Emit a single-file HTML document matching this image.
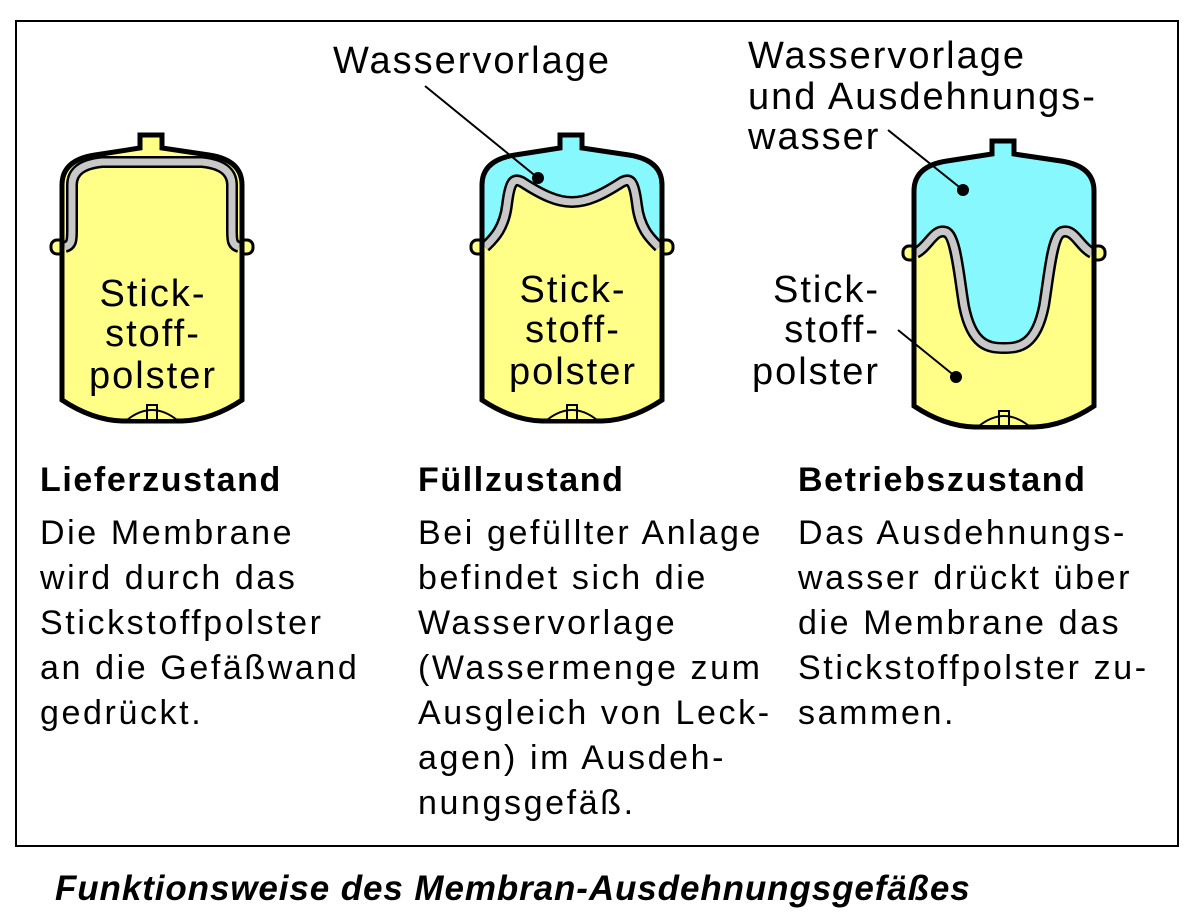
<!DOCTYPE html>
<html><head><meta charset="utf-8"><style>
body{margin:0;background:#fff;width:1204px;height:923px;overflow:hidden;position:relative;font-family:"Liberation Sans",sans-serif;}
.frame{position:absolute;left:15px;top:20px;width:1160px;height:823px;border:2px solid #000;}
.t{position:absolute;font-size:34px;line-height:45px;letter-spacing:2.6px;color:#000;white-space:nowrap;}
.h{font-weight:bold;letter-spacing:1.6px;display:block;margin-bottom:8px;}
</style></head><body>
<div class="frame"></div>
<svg width="1204" height="923" style="position:absolute;left:0;top:0">
<defs>
<path id="body" d="M -90 248 L -90 185 Q -90 160 -57 155 L -12 148 L -12 135 L 10 135 L 10 148 L 57 155 Q 90 160 90 185 L 90 400 Q 60 420 30 421 L -30 421 Q -60 420 -90 400 Z"/>
<clipPath id="cb"><use href="#body"/></clipPath>
<g id="flanges">
<rect x="-101" y="240" width="14" height="14" rx="6" fill="#ffff88" stroke="#000" stroke-width="3"/>
<rect x="87" y="240" width="14" height="14" rx="6" fill="#ffff88" stroke="#000" stroke-width="3"/>
</g>
<path id="fit" d="M -25 420 Q 0 400 25 420 Z M -5 405 L 5 405 L 5 420 L -5 420 Z" fill="#ffff88" stroke="#000" stroke-width="2"/>
</defs>
<g transform="translate(152,0)">
<use href="#flanges"/>
<use href="#body" fill="#ffff88"/>
<path d="M -87 247 C -80 245 -80 240 -80 230 L -80 185 Q -80 165 -50 162 L 50 162 Q 80 165 80 185 L 80 230 C 80 240 80 245 87 247" fill="none" stroke="#000" stroke-width="12"/>
<path d="M -87 247 C -80 245 -80 240 -80 230 L -80 185 Q -80 165 -50 162 L 50 162 Q 80 165 80 185 L 80 230 C 80 240 80 245 87 247" fill="none" stroke="#c8c8c8" stroke-width="7"/>
<use href="#body" fill="none" stroke="#000" stroke-width="5"/>
<use href="#fit"/>
</g>
<g transform="translate(572,0)">
<use href="#flanges"/>
<use href="#body" fill="#ffff88"/>
<path clip-path="url(#cb)" d="M -87 247 C -80 240 -68 230 -65 205 C -62 180 -58 178 -50 182 C -30 195 -15 202 0 202 C 15 202 30 195 50 182 C 58 178 62 180 65 205 C 68 230 80 240 87 247 L 95 100 L -95 100 Z" fill="#88f8ff"/>
<path d="M -87 247 C -80 240 -68 230 -65 205 C -62 180 -58 178 -50 182 C -30 195 -15 202 0 202 C 15 202 30 195 50 182 C 58 178 62 180 65 205 C 68 230 80 240 87 247" fill="none" stroke="#000" stroke-width="12"/>
<path d="M -87 247 C -80 240 -68 230 -65 205 C -62 180 -58 178 -50 182 C -30 195 -15 202 0 202 C 15 202 30 195 50 182 C 58 178 62 180 65 205 C 68 230 80 240 87 247" fill="none" stroke="#c8c8c8" stroke-width="7"/>
<use href="#body" fill="none" stroke="#000" stroke-width="5"/>
<use href="#fit"/>
</g>
<g transform="translate(1004,6)">
<use href="#flanges"/>
<use href="#body" fill="#ffff88"/>
<path clip-path="url(#cb)" d="M -88 247 C -75 240 -70 222 -58 226 C -48 230 -45 270 -40 300 C -32 340 -15 342 0 342 C 15 342 32 340 40 300 C 45 270 48 230 58 226 C 70 222 75 240 88 247 L 95 100 L -95 100 Z" fill="#88f8ff"/>
<path d="M -88 247 C -75 240 -70 222 -58 226 C -48 230 -45 270 -40 300 C -32 340 -15 342 0 342 C 15 342 32 340 40 300 C 45 270 48 230 58 226 C 70 222 75 240 88 247" fill="none" stroke="#000" stroke-width="12"/>
<path d="M -88 247 C -75 240 -70 222 -58 226 C -48 230 -45 270 -40 300 C -32 340 -15 342 0 342 C 15 342 32 340 40 300 C 45 270 48 230 58 226 C 70 222 75 240 88 247" fill="none" stroke="#c8c8c8" stroke-width="7"/>
<use href="#body" fill="none" stroke="#000" stroke-width="5"/>
<use href="#fit"/>
</g>
<line x1="425" y1="86" x2="538" y2="178" stroke="#000" stroke-width="2"/>
<circle cx="538" cy="178" r="6"/>
<line x1="888" y1="130" x2="963" y2="190" stroke="#000" stroke-width="2"/>
<circle cx="963" cy="190" r="6"/>
<line x1="898" y1="330" x2="956" y2="377" stroke="#000" stroke-width="2"/>
<circle cx="956" cy="377" r="6"/>
<g font-family="Liberation Sans, sans-serif" font-size="38" letter-spacing="2" text-anchor="middle">
<text x="153" y="306">Stick-</text><text x="153" y="346">stoff-</text><text x="153" y="388">polster</text>
<text x="573" y="302">Stick-</text><text x="573" y="342">stoff-</text><text x="573" y="384">polster</text>
</g>
<g font-family="Liberation Sans, sans-serif" font-size="38" letter-spacing="2">
<text x="333" y="73">Wasservorlage</text>
<text x="748" y="68">Wasservorlage</text>
<text x="748" y="109">und Ausdehnungs-</text>
<text x="748" y="149">wasser</text>
<text x="880" y="302" text-anchor="end">Stick-</text>
<text x="880" y="342" text-anchor="end">stoff-</text>
<text x="880" y="384" text-anchor="end">polster</text>
</g>
</svg>
<div class="t" style="left:40px;top:458px"><span class="h">Lieferzustand</span>Die Membrane<br>wird durch das<br>Stickstoffpolster<br>an die Gefäßwand<br>gedrückt.</div>
<div class="t" style="left:418px;top:458px"><span class="h">Füllzustand</span>Bei gefüllter Anlage<br>befindet sich die<br>Wasservorlage<br>(Wassermenge zum<br>Ausgleich von Leck-<br>agen) im Ausdeh-<br>nungsgefäß.</div>
<div class="t" style="left:798px;top:458px"><span class="h">Betriebszustand</span>Das Ausdehnungs-<br>wasser drückt über<br>die Membrane das<br>Stickstoffpolster zu-<br>sammen.</div>
<div class="t" style="left:55px;top:866px;font-weight:bold;font-style:italic;font-size:35px;letter-spacing:0.9px">Funktionsweise des Membran-Ausdehnungsgefäßes</div>
</body></html>
